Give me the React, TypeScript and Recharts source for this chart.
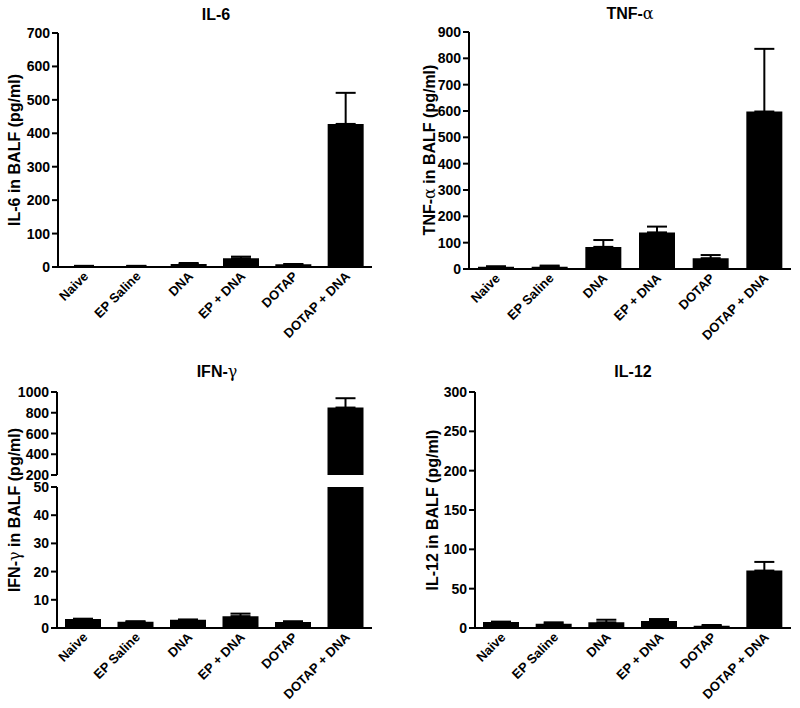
import React from 'react';
import { BarChart, Bar, XAxis, YAxis, ErrorBar } from 'recharts';

const FONT = '"Liberation Sans", Arial, Helvetica, sans-serif';

const categories = ['Naive', 'EP Saline', 'DNA', 'EP + DNA', 'DOTAP', 'DOTAP + DNA'];

const il6Mean = [3, 3, 9, 26, 8, 428];
const il6Sem = [0.5, 0.5, 3, 5, 1, 93];
const il6Ticks = [0, 100, 200, 300, 400, 500, 600, 700];

const tnfMean = [9, 9, 84, 139, 41, 598];
const tnfSem = [1, 4, 26, 22, 12, 238];
const tnfTicks = [0, 100, 200, 300, 400, 500, 600, 700, 800, 900];

const ifnMean = [3.2, 2.2, 2.9, 4.2, 2.1, 850];
const ifnSem = [0.1, 0.2, 0.1, 0.9, 0.3, 90];
const ifnTicksHigh = [200, 400, 600, 800, 1000];
const ifnTicksLow = [0, 10, 20, 30, 40, 50];

const il12Mean = [7.6, 5.4, 7.2, 8.9, 3, 73];
const il12Sem = [0.5, 1.8, 3.3, 2.5, 0.8, 11];
const il12Ticks = [0, 50, 100, 150, 200, 250, 300];

type Row = { name: string; value: number | null; err: number[] | null };

const buildRows = (mean: number[], sem: number[], keep: (v: number) => boolean = () => true): Row[] =>
  categories.map((name, i) => ({
    name,
    value: keep(mean[i]) ? mean[i] : null,
    err: keep(mean[i]) ? [0, sem[i]] : null,
  }));

const axisLine = { stroke: '#000', strokeWidth: 2 };

const XTick = (props: any) => {
  const { x, y, payload } = props;
  const tx = x + 5;
  const ty = y + 10;
  return (
    <text
      x={tx}
      y={ty}
      transform={`rotate(-45, ${tx}, ${ty})`}
      textAnchor="end"
      fill="#000"
      fontSize={13}
      fontWeight="bold"
      fontFamily={FONT}
    >
      {payload.value}
    </text>
  );
};

const YTick = (props: any) => {
  const { x, y, payload } = props;
  return (
    <text
      x={x}
      y={y}
      dy="0.36em"
      textAnchor="end"
      fill="#000"
      fontSize={14}
      fontWeight="bold"
      fontFamily={FONT}
    >
      {payload.value}
    </text>
  );
};

const Greek = ({ ch }: { ch: string }) => (
  <span style={{ fontFamily: '"DejaVu Serif", "Liberation Serif", serif', fontWeight: 'normal' }}>{ch}</span>
);

const Title = ({ cx, cy, children }: { cx: number; cy: number; children: React.ReactNode }) => (
  <div
    style={{
      position: 'absolute',
      left: cx,
      top: cy,
      transform: 'translate(-50%, -50%)',
      fontSize: 16,
      fontWeight: 'bold',
      fontFamily: FONT,
      whiteSpace: 'nowrap',
      color: '#000',
      lineHeight: 1,
    }}
  >
    {children}
  </div>
);

const YTitle = ({ cx, cy, children }: { cx: number; cy: number; children: React.ReactNode }) => (
  <div
    style={{
      position: 'absolute',
      left: cx,
      top: cy,
      transform: 'translate(-50%, -50%) rotate(-90deg)',
      fontSize: 16,
      fontWeight: 'bold',
      fontFamily: FONT,
      whiteSpace: 'nowrap',
      color: '#000',
      lineHeight: 1,
    }}
  >
    {children}
  </div>
);

type PanelProps = {
  left: number;
  top: number;
  width: number;
  height: number;
  margin: { top: number; right: number; bottom: number; left: number };
  yWidth: number;
  xHeight: number;
  data: Row[];
  domain: [number, number];
  ticks: number[];
  showX?: boolean;
  showTop?: boolean;
};

const Panel = ({ left, top, width, height, margin, yWidth, xHeight, data, domain, ticks, showX = true, showTop = true }: PanelProps) => (
  <div style={{ position: 'absolute', left, top, width, height }}>
    <BarChart width={width} height={height} data={data} margin={margin} barSize={36}>
      <XAxis
        dataKey="name"
        hide={!showX}
        height={showX ? xHeight : 0}
        tick={<XTick />}
        tickLine={false}
        tickSize={0}
        tickMargin={0}
        interval={0}
        axisLine={axisLine}
      />
      {showTop && (
        <XAxis
          xAxisId="top"
          orientation="top"
          dataKey="name"
          height={0}
          tick={false}
          tickLine={false}
          axisLine={axisLine}
        />
      )}
      <YAxis
        width={yWidth}
        domain={domain}
        ticks={ticks}
        interval={0}
        allowDataOverflow
        tick={<YTick />}
        tickLine={axisLine}
        tickSize={6}
        tickMargin={2}
        axisLine={axisLine}
      />
      <YAxis
        yAxisId="right"
        orientation="right"
        width={0}
        domain={[0, 1]}
        tick={false}
        tickLine={false}
        axisLine={axisLine}
      />
      <Bar dataKey="value" fill="#000" isAnimationActive={false}>
        <ErrorBar dataKey="err" width={10} stroke="#000" strokeWidth={2} direction="y" isAnimationActive={false} />
      </Bar>
    </BarChart>
  </div>
);

export default function App() {
  const il6Data = buildRows(il6Mean, il6Sem);
  const tnfData = buildRows(tnfMean, tnfSem);
  const ifnHigh = buildRows(ifnMean, ifnSem, (v) => v >= 200);
  const ifnLow = categories.map((name, i) => ({
    name,
    value: ifnMean[i],
    err: ifnMean[i] <= 50 ? [0, ifnSem[i]] : null,
  }));
  const il12Data = buildRows(il12Mean, il12Sem);

  return (
    <div style={{ position: 'absolute', left: 0, top: 0, width: 800, height: 708, background: '#fff', overflow: 'hidden' }}>
      {/* IL-6 */}
      <Title cx={216} cy={15}>IL-6</Title>
      <YTitle cx={15} cy={150}>IL-6 in BALF (pg/ml)</YTitle>
      <Panel
        left={0}
        top={0}
        width={400}
        height={360}
        margin={{ top: 33, right: 28, bottom: 0, left: 0 }}
        yWidth={58}
        xHeight={93}
        data={il6Data}
        domain={[0, 700]}
        ticks={il6Ticks}
      />

      {/* TNF-alpha */}
      <Title cx={630} cy={14}>
        TNF-<Greek ch="α" />
      </Title>
      <YTitle cx={430} cy={150}>
        TNF-<Greek ch="α" /> in BALF (pg/ml)
      </YTitle>
      <Panel
        left={400}
        top={0}
        width={400}
        height={360}
        margin={{ top: 32, right: 9, bottom: 0, left: 0 }}
        yWidth={69}
        xHeight={91}
        data={tnfData}
        domain={[0, 900]}
        ticks={tnfTicks}
      />

      {/* IFN-gamma (broken axis) */}
      <Title cx={217} cy={372}>
        IFN-<Greek ch="γ" />
      </Title>
      <YTitle cx={15} cy={510}>
        IFN-<Greek ch="γ" /> in BALF (pg/ml)
      </YTitle>
      <Panel
        left={0}
        top={360}
        width={400}
        height={130}
        margin={{ top: 32, right: 28, bottom: 15, left: 0 }}
        yWidth={57}
        xHeight={0}
        data={ifnHigh}
        domain={[200, 1000]}
        ticks={ifnTicksHigh}
        showX={false}
      />
      <Panel
        left={0}
        top={470}
        width={400}
        height={238}
        margin={{ top: 17, right: 28, bottom: 0, left: 0 }}
        yWidth={57}
        xHeight={80}
        data={ifnLow}
        domain={[0, 50]}
        ticks={ifnTicksLow}
        showTop={false}
      />

      {/* IL-12 */}
      <Title cx={633} cy={372}>IL-12</Title>
      <YTitle cx={433} cy={510}>IL-12 in BALF (pg/ml)</YTitle>
      <Panel
        left={400}
        top={360}
        width={400}
        height={348}
        margin={{ top: 32, right: 9, bottom: 0, left: 0 }}
        yWidth={75}
        xHeight={80}
        data={il12Data}
        domain={[0, 300]}
        ticks={il12Ticks}
      />
    </div>
  );
}
